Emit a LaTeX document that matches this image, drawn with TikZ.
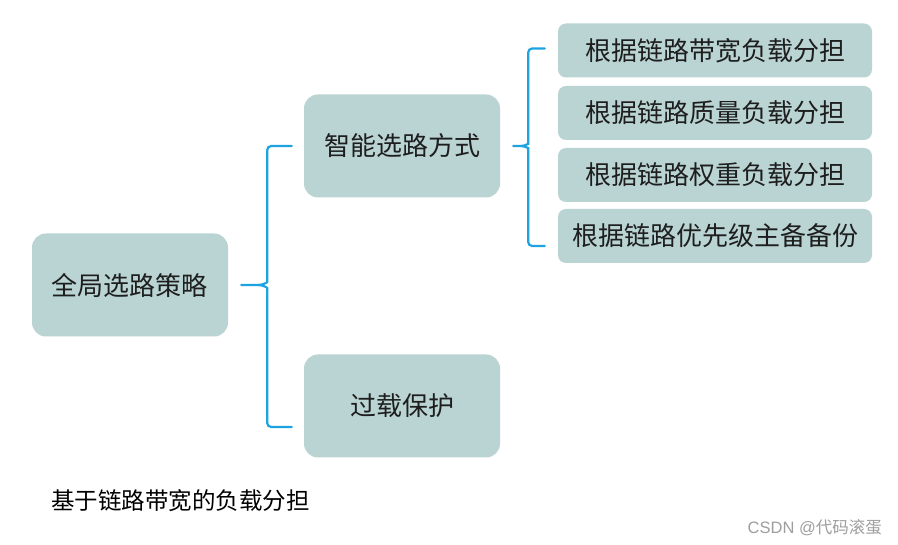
\documentclass[tikz,border=0pt]{standalone}
\usepackage{fontspec}
\setmainfont{Noto Sans CJK SC}
\newfontfamily\latinsans{Liberation Sans}
\definecolor{boxfill}{HTML}{B9D4D3}
\definecolor{bracecol}{HTML}{1CA3E0}
\definecolor{txtcol}{HTML}{1E1E1E}
\definecolor{markcol}{HTML}{9E9E9E}
\begin{document}
\begin{tikzpicture}[x=1pt,y=-1pt,
  bigbox/.style={fill=boxfill,rounded corners=14pt,minimum width=196pt,minimum height=103pt,
    inner sep=0pt,text=txtcol,font=\fontsize{26}{30}\selectfont},
  smallbox/.style={fill=boxfill,rounded corners=8pt,minimum width=314pt,minimum height=54pt,
    inner sep=0pt,text=txtcol,font=\fontsize{26}{30}\selectfont},
  brace/.style={draw=bracecol,line width=2.2pt,line cap=round}]
\useasboundingbox (0,0) rectangle (898,545);
\fill[white] (0,0) rectangle (898,545);

\node[bigbox] (root) at (130,285) {全局选路策略};
\node[bigbox] (smart) at (402,146) {智能选路方式};
\node[bigbox] (over) at (402,406) {过载保护};

\node[smallbox] (s1) at (715,50.5) {根据链路带宽负载分担};
\node[smallbox] (s2) at (715,113) {根据链路质量负载分担};
\node[smallbox] (s3) at (715,175) {根据链路权重负载分担};
\node[smallbox] (s4) at (715,236) {根据链路优先级主备备份};

% left brace
\coordinate (T1) at ([xshift=13pt]root.east);
\coordinate (V1) at ([xshift=39pt]root.east);
\draw[brace] ([xshift=-12pt]smart.west) [rounded corners=4pt] -| ([yshift=7pt]V1)
  [sharp corners] to[out=-90,in=0] ([xshift=-9pt]V1) -- (T1);
\draw[brace] ([xshift=-12pt,yshift=-21pt]over.west) [rounded corners=4pt] -| ([yshift=-7pt]V1)
  [sharp corners] to[out=90,in=0] ([xshift=-9pt]V1);

% right brace
\coordinate (T2) at ([xshift=13pt]smart.east);
\coordinate (V2) at ([xshift=28pt]smart.east);
\draw[brace] ([xshift=-13pt,yshift=2pt]s1.west) [rounded corners=4pt] -| ([yshift=6pt]V2)
  [sharp corners] to[out=-90,in=0] ([xshift=-7pt]V2) -- (T2);
\draw[brace] ([xshift=-13pt,yshift=-10pt]s4.west) [rounded corners=4pt] -| ([yshift=-6pt]V2)
  [sharp corners] to[out=90,in=0] ([xshift=-7pt]V2);

\node[anchor=west,inner sep=0pt,text=black,font=\fontsize{23.5}{28}\selectfont] (cap) at (51,501) {基于链路带宽的负载分担};
\node[anchor=east,inner sep=0pt,text=markcol,font=\fontsize{16.5}{20}\selectfont] (mark) at (882,528) {{\latinsans CSDN @}代码滚蛋};
\end{tikzpicture}
\end{document}
